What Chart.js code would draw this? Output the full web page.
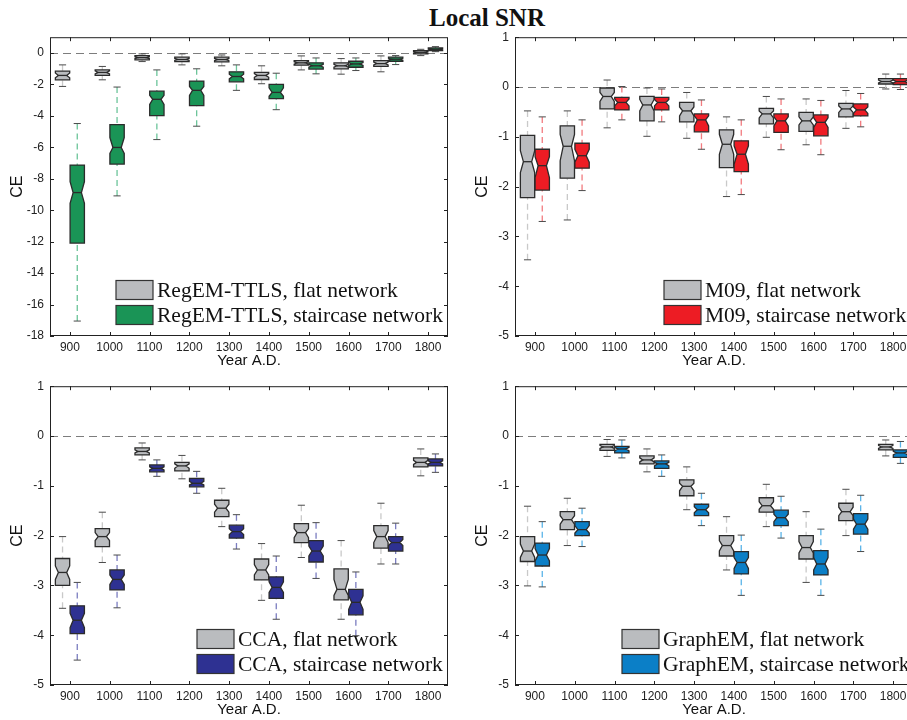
<!DOCTYPE html>
<html>
<head>
<meta charset="utf-8">
<title>Local SNR</title>
<script src="https://cdn.jsdelivr.net/npm/chart.js@4.4.1/dist/chart.umd.min.js"></script>
<style>
  body { margin: 0; background: #fff; overflow: hidden; width: 907px; height: 720px; position: relative; }
  #title { position: absolute; left: 387px; width: 200px; top: 5px; text-align: center;
           font: bold 25px "Liberation Serif", serif; color: #111; line-height: 25px; }
  .panel { position: absolute; width: 460px; height: 354px; }
</style>
</head>
<body>
<div id="title">Local SNR</div>
<div class="panel" style="left:0;top:24px"><canvas id="regem" width="460" height="354"></canvas></div>
<div class="panel" style="left:465px;top:24px"><canvas id="m09" width="460" height="354"></canvas></div>
<div class="panel" style="left:0;top:373px"><canvas id="cca" width="460" height="354"></canvas></div>
<div class="panel" style="left:465px;top:373px"><canvas id="graphem" width="460" height="354"></canvas></div>
<script>
const years = [900, 1000, 1100, 1200, 1300, 1400, 1500, 1600, 1700, 1800];
const yTicksTall = [0, -2, -4, -6, -8, -10, -12, -14, -16, -18];
const yTicksShort = [1, 0, -1, -2, -3, -4, -5];

// each box: [lower whisker, q1, notch low, median, notch high, q3, upper whisker]
const regemFlat = [
  [-2.13, -1.71, -1.58, -1.43, -1.28, -1.16, -0.76],
  [-1.71, -1.43, -1.34, -1.24, -1.14, -1.08, -0.86],
  [-0.55, -0.44, -0.36, -0.30, -0.24, -0.17, -0.06],
  [-0.76, -0.55, -0.48, -0.42, -0.35, -0.27, -0.06],
  [-0.82, -0.57, -0.49, -0.42, -0.35, -0.27, -0.13],
  [-1.96, -1.69, -1.55, -1.43, -1.32, -1.24, -0.82],
  [-1.08, -0.78, -0.71, -0.63, -0.56, -0.49, -0.19],
  [-1.35, -1.01, -0.91, -0.82, -0.73, -0.63, -0.36],
  [-1.20, -0.86, -0.77, -0.68, -0.59, -0.49, -0.19],
  [-0.17, -0.06, -0.01, 0.04, 0.09, 0.15, 0.23]
];
const regemStair = [
  [-17.05, -12.09, -9.56, -8.88, -8.19, -7.13, -4.49],
  [-9.09, -7.07, -6.39, -6.01, -5.38, -4.56, -2.17],
  [-5.51, -3.99, -3.27, -2.95, -2.70, -2.43, -1.08],
  [-4.66, -3.35, -2.70, -2.38, -2.13, -1.79, -1.01],
  [-2.38, -1.84, -1.65, -1.50, -1.35, -1.20, -0.76],
  [-3.61, -2.91, -2.76, -2.51, -2.22, -2.00, -1.29],
  [-1.33, -1.03, -0.91, -0.82, -0.73, -0.63, -0.32],
  [-1.12, -0.91, -0.79, -0.70, -0.62, -0.53, -0.32],
  [-0.74, -0.53, -0.46, -0.40, -0.34, -0.27, -0.17],
  [0.08, 0.15, 0.19, 0.23, 0.27, 0.32, 0.40]
];
const m09Flat = [
  [-3.47, -2.22, -1.72, -1.50, -1.28, -0.97, -0.48],
  [-2.67, -1.83, -1.48, -1.19, -0.95, -0.78, -0.48],
  [-0.82, -0.44, -0.29, -0.19, -0.11, -0.02, 0.14],
  [-0.99, -0.68, -0.48, -0.36, -0.25, -0.19, -0.02],
  [-1.03, -0.70, -0.58, -0.48, -0.40, -0.31, -0.11],
  [-2.20, -1.62, -1.35, -1.15, -0.95, -0.86, -0.60],
  [-1.01, -0.74, -0.62, -0.54, -0.48, -0.43, -0.19],
  [-1.16, -0.89, -0.76, -0.68, -0.60, -0.51, -0.24],
  [-0.83, -0.60, -0.51, -0.44, -0.38, -0.33, -0.07],
  [-0.04, 0.06, 0.08, 0.11, 0.14, 0.17, 0.26]
];
const m09Stair = [
  [-2.70, -2.07, -1.82, -1.58, -1.40, -1.25, -0.60],
  [-2.08, -1.63, -1.51, -1.38, -1.25, -1.13, -0.66],
  [-0.66, -0.46, -0.38, -0.31, -0.24, -0.21, 0.01],
  [-0.70, -0.46, -0.38, -0.31, -0.25, -0.21, -0.04],
  [-1.25, -0.90, -0.78, -0.66, -0.58, -0.54, -0.26],
  [-2.16, -1.70, -1.55, -1.35, -1.18, -1.08, -0.66],
  [-1.26, -0.91, -0.78, -0.68, -0.60, -0.54, -0.24],
  [-1.36, -0.98, -0.81, -0.71, -0.62, -0.56, -0.27],
  [-0.80, -0.58, -0.53, -0.46, -0.40, -0.34, -0.13],
  [-0.05, 0.05, 0.08, 0.11, 0.14, 0.17, 0.26]
];
const ccaFlat = [
  [-3.46, -3.00, -2.88, -2.74, -2.61, -2.46, -2.02],
  [-2.54, -2.22, -2.10, -2.02, -1.94, -1.86, -1.53],
  [-0.48, -0.38, -0.34, -0.31, -0.28, -0.24, -0.14],
  [-0.86, -0.70, -0.65, -0.60, -0.56, -0.53, -0.39],
  [-1.82, -1.62, -1.53, -1.45, -1.37, -1.29, -1.05],
  [-3.30, -2.89, -2.79, -2.69, -2.58, -2.47, -2.16],
  [-2.44, -2.14, -2.04, -1.94, -1.86, -1.76, -1.39],
  [-3.68, -3.29, -3.20, -3.08, -2.88, -2.67, -2.10],
  [-2.57, -2.25, -2.14, -2.02, -1.90, -1.80, -1.35],
  [-0.80, -0.62, -0.57, -0.53, -0.49, -0.44, -0.26]
];
const ccaStair = [
  [-4.50, -3.97, -3.85, -3.70, -3.56, -3.41, -2.94],
  [-3.45, -3.09, -2.98, -2.88, -2.79, -2.69, -2.39],
  [-0.81, -0.72, -0.68, -0.65, -0.62, -0.58, -0.48],
  [-1.15, -1.02, -0.98, -0.95, -0.91, -0.85, -0.71],
  [-2.27, -2.05, -1.98, -1.92, -1.86, -1.79, -1.58],
  [-3.68, -3.26, -3.14, -3.04, -2.93, -2.83, -2.41],
  [-2.86, -2.53, -2.41, -2.31, -2.21, -2.10, -1.74],
  [-4.01, -3.59, -3.48, -3.34, -3.21, -3.08, -2.73],
  [-2.57, -2.31, -2.20, -2.14, -2.08, -2.02, -1.75],
  [-0.73, -0.60, -0.56, -0.53, -0.50, -0.46, -0.36]
];
const graphemFlat = [
  [-3.01, -2.52, -2.44, -2.31, -2.17, -2.02, -1.41],
  [-2.20, -1.88, -1.77, -1.68, -1.60, -1.52, -1.25],
  [-0.41, -0.29, -0.25, -0.22, -0.19, -0.17, -0.07],
  [-0.72, -0.56, -0.52, -0.48, -0.44, -0.40, -0.26],
  [-1.48, -1.20, -1.10, -1.01, -0.95, -0.88, -0.62],
  [-2.69, -2.41, -2.31, -2.20, -2.10, -2.00, -1.62],
  [-1.82, -1.53, -1.47, -1.40, -1.32, -1.24, -0.97],
  [-2.94, -2.47, -2.35, -2.24, -2.12, -2.00, -1.52],
  [-2.00, -1.70, -1.60, -1.52, -1.43, -1.35, -1.07],
  [-0.40, -0.28, -0.25, -0.22, -0.19, -0.17, -0.08]
];
const graphemStair = [
  [-3.03, -2.61, -2.51, -2.39, -2.26, -2.15, -1.72],
  [-2.22, -2.00, -1.95, -1.88, -1.80, -1.72, -1.45],
  [-0.44, -0.34, -0.30, -0.26, -0.23, -0.21, -0.08],
  [-0.81, -0.65, -0.60, -0.56, -0.53, -0.50, -0.38],
  [-1.80, -1.60, -1.54, -1.48, -1.42, -1.37, -1.15],
  [-3.20, -2.77, -2.66, -2.54, -2.44, -2.32, -1.99],
  [-2.05, -1.80, -1.72, -1.64, -1.57, -1.49, -1.21],
  [-3.20, -2.79, -2.69, -2.57, -2.44, -2.30, -1.87],
  [-2.32, -1.97, -1.87, -1.77, -1.67, -1.56, -1.19],
  [-0.55, -0.43, -0.38, -0.34, -0.31, -0.28, -0.11]
];

const BOX_W = 36;     // box width in years
const SHIFT = 18.5;   // offset of each box from its tick
const edge = '#2b2b2b';

// draws the notched boxes, frame, inward ticks and the legend
const boxPlot = {
  id: 'boxPlot',
  beforeDatasetsDraw(chart) {
    const { ctx, chartArea: a, scales: { y } } = chart;
    const y0 = Math.round(y.getPixelForValue(0)) + 0.5;
    ctx.save();
    ctx.strokeStyle = '#7d7d7d';
    ctx.lineWidth = 1;
    ctx.setLineDash([8, 5]);
    ctx.beginPath();
    ctx.moveTo(a.left, y0);
    ctx.lineTo(a.right, y0);
    ctx.stroke();
    ctx.restore();
  },
  afterDatasetsDraw(chart, args, opts) {
    const { ctx, chartArea: a, scales: { x, y } } = chart;
    const half = (x.getPixelForValue(BOX_W) - x.getPixelForValue(0)) / 2;
    const d = half * 0.42;

    chart.data.datasets.forEach((ds, di) => {
      const meta = chart.getDatasetMeta(di);
      ds.boxes.forEach((b, i) => {
        const cx = meta.data[i].x;
        const [lo, q1, nlo, med, nhi, q3, hi] = b.map(v => y.getPixelForValue(v));
        const L = cx - half, R = cx + half;
        ctx.save();
        // whiskers
        ctx.strokeStyle = ds.whiskerColor;
        ctx.lineWidth = 1.3;
        ctx.setLineDash([6, 4]);
        ctx.beginPath();
        ctx.moveTo(cx, hi); ctx.lineTo(cx, q3);
        ctx.moveTo(cx, lo); ctx.lineTo(cx, q1);
        ctx.stroke();
        ctx.setLineDash([]);
        ctx.strokeStyle = '#4a4a4a';
        ctx.lineWidth = 1;
        ctx.beginPath();
        ctx.moveTo(cx - half / 2, hi); ctx.lineTo(cx + half / 2, hi);
        ctx.moveTo(cx - half / 2, lo); ctx.lineTo(cx + half / 2, lo);
        ctx.stroke();
        // notched box
        ctx.beginPath();
        ctx.moveTo(L, q3); ctx.lineTo(L, nhi); ctx.lineTo(L + d, med); ctx.lineTo(L, nlo); ctx.lineTo(L, q1);
        ctx.lineTo(R, q1); ctx.lineTo(R, nlo); ctx.lineTo(R - d, med); ctx.lineTo(R, nhi); ctx.lineTo(R, q3);
        ctx.closePath();
        ctx.fillStyle = ds.boxColor;
        ctx.fill();
        ctx.strokeStyle = edge;
        ctx.lineWidth = 1.3;
        ctx.stroke();
        ctx.beginPath();
        ctx.moveTo(L + d, med); ctx.lineTo(R - d, med);
        ctx.stroke();
        ctx.restore();
      });
    });

    // frame and inward ticks
    ctx.save();
    ctx.strokeStyle = '#222';
    ctx.lineWidth = 1;
    ctx.strokeRect(a.left + 0.5, a.top + 0.5, a.right - a.left - 1, a.bottom - a.top - 1);
    ctx.beginPath();
    x.ticks.forEach(t => {
      const px = Math.round(x.getPixelForValue(t.value)) + 0.5;
      ctx.moveTo(px, a.bottom); ctx.lineTo(px, a.bottom - 4);
      ctx.moveTo(px, a.top); ctx.lineTo(px, a.top + 4);
    });
    y.ticks.forEach(t => {
      const py = Math.round(y.getPixelForValue(t.value)) + 0.5;
      ctx.moveTo(a.left, py); ctx.lineTo(a.left + 4, py);
      ctx.moveTo(a.right, py); ctx.lineTo(a.right - 4, py);
    });
    ctx.stroke();

    // legend
    const sx = a.left + opts.legendLeft;
    ctx.font = '21.5px "Liberation Serif", serif';
    ctx.textBaseline = 'middle';
    chart.data.datasets.forEach((ds, di) => {
      const cy = a.bottom - 46 + di * 25;
      ctx.fillStyle = ds.boxColor;
      ctx.fillRect(sx, cy - 9.5, 37, 19);
      ctx.strokeStyle = '#333';
      ctx.lineWidth = 1.2;
      ctx.strokeRect(sx, cy - 9.5, 37, 19);
      ctx.fillStyle = '#111';
      ctx.fillText(ds.label, sx + 41, cy + 1);
    });
    ctx.restore();
  }
};

function toPoints(boxes, shift) {
  return years.map((yr, i) => ({ x: yr + shift, y: boxes[i][3] }));
}

function makePanel(id, name, flat, stair, stairColor, stairWhisker, yMin, yTicks, legendLeft) {
  new Chart(document.getElementById(id), {
    type: 'scatter',
    data: {
      datasets: [
        { label: name + ', flat network', data: toPoints(flat, -SHIFT), boxes: flat,
          boxColor: '#babcbf', whiskerColor: '#c9c9c9', pointRadius: 0 },
        { label: name + ', staircase network', data: toPoints(stair, SHIFT), boxes: stair,
          boxColor: stairColor, whiskerColor: stairWhisker, pointRadius: 0 }
      ]
    },
    options: {
      responsive: false,
      animation: false,
      devicePixelRatio: 1,
      layout: { padding: { top: 7, right: 12, left: 0, bottom: 0 } },
      plugins: {
        legend: { display: false },
        tooltip: { enabled: false },
        boxPlot: { legendLeft: legendLeft }
      },
      scales: {
        x: {
          type: 'linear', min: 850, max: 1850,
          afterBuildTicks: s => { s.ticks = years.map(v => ({ value: v })); },
          afterFit: s => { s.height = 42; },
          grid: { display: false, drawTicks: false },
          border: { display: false },
          ticks: { color: '#222', padding: 4, font: { family: '"Liberation Sans", Arial', size: 12 },
                   callback: v => String(v) },
          title: { display: true, text: 'Year A.D.', color: '#111', padding: { top: 0, bottom: 8 },
                   font: { family: '"Liberation Sans", Arial', size: 15 } }
        },
        y: {
          type: 'linear', min: yMin, max: 1,
          afterBuildTicks: s => { s.ticks = yTicks.map(v => ({ value: v })); },
          afterFit: s => { s.width = 50; },
          grid: { display: false, drawTicks: false },
          border: { display: false },
          ticks: { color: '#222', padding: 6, font: { family: '"Liberation Sans", Arial', size: 12 },
                   callback: v => String(v) },
          title: { display: true, text: 'CE', color: '#111', padding: { top: 8, bottom: 0 },
                   font: { family: '"Liberation Sans", Arial', size: 16 } }
        }
      }
    },
    plugins: [boxPlot]
  });
}

makePanel('regem', 'RegEM-TTLS', regemFlat, regemStair, '#1a9456', '#6cc49a', -18, yTicksTall, 66);
makePanel('m09', 'M09', m09Flat, m09Stair, '#ed1c24', '#f27b7f', -5, yTicksShort, 149);
makePanel('cca', 'CCA', ccaFlat, ccaStair, '#2e3192', '#7b7dc0', -5, yTicksShort, 147);
makePanel('graphem', 'GraphEM', graphemFlat, graphemStair, '#0b7fc7', '#5ab4e8', -5, yTicksShort, 107);
</script>
</body>
</html>
